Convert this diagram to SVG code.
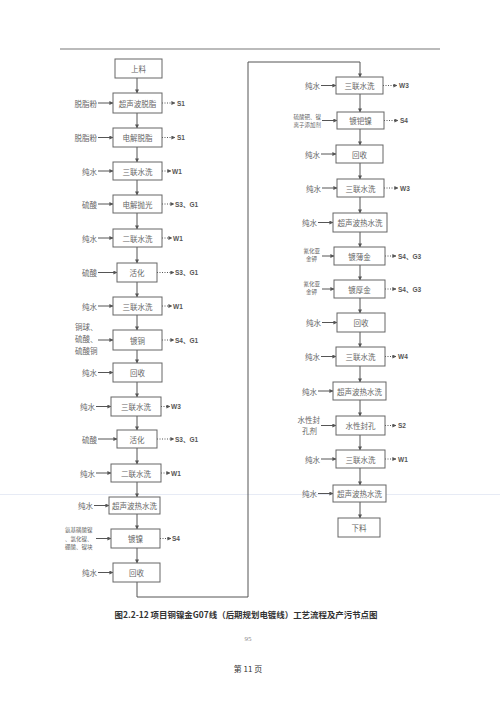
<svg xmlns="http://www.w3.org/2000/svg" width="500" height="707" viewBox="0 0 500 707">
<defs>
<marker id="ah" viewBox="0 0 10 10" refX="9" refY="5" markerWidth="4" markerHeight="4" orient="auto"><path d="M0,0 L10,5 L0,10 z" fill="#555"/></marker>
<style>
.bx{fill:#fff;stroke:#666;stroke-width:1}
.t{font-family:"Noto Sans CJK SC","Liberation Serif",serif;font-size:7.5px;fill:#666;text-anchor:middle;dominant-baseline:central}
.in{font-family:"Noto Sans CJK SC","Liberation Serif",serif;font-size:7.5px;fill:#666;text-anchor:end;dominant-baseline:central}
.sm{font-family:"Noto Sans CJK SC","Liberation Serif",serif;font-size:5.5px;fill:#666;text-anchor:end;dominant-baseline:central}
.out{font-family:"Liberation Sans","Noto Sans CJK SC",sans-serif;font-size:6.5px;font-weight:bold;fill:#555;dominant-baseline:central}
.ln{stroke:#555;stroke-width:1;fill:none;marker-end:url(#ah)}
.dl{stroke:#555;stroke-width:1;fill:none;stroke-dasharray:1,1.5;marker-end:url(#ah)}
</style>
</defs>
<rect width="500" height="707" fill="#fff"/>
<line x1="60" y1="49" x2="440" y2="49" stroke="#bbb" stroke-width="2"/>
<line x1="0" y1="494.5" x2="500" y2="494.5" stroke="#d6deee" stroke-width="0.6"/>

<g id="connectors">
<line class="ln" x1="137" y1="78" x2="137" y2="93"/>
<line class="ln" x1="137" y1="113" x2="137" y2="128"/>
<line class="ln" x1="137" y1="147" x2="137" y2="162"/>
<line class="ln" x1="137" y1="180" x2="137" y2="195"/>
<line class="ln" x1="137" y1="213" x2="137" y2="229"/>
<line class="ln" x1="137" y1="247" x2="137" y2="263"/>
<line class="ln" x1="137" y1="282" x2="137" y2="297"/>
<line class="ln" x1="137" y1="315" x2="137" y2="330"/>
<line class="ln" x1="137" y1="350" x2="137" y2="363"/>
<line class="ln" x1="137" y1="382" x2="137" y2="397"/>
<line class="ln" x1="137" y1="416" x2="137" y2="430"/>
<line class="ln" x1="137" y1="448" x2="137" y2="464"/>
<line class="ln" x1="137" y1="482" x2="137" y2="497"/>
<line class="ln" x1="137" y1="514" x2="137" y2="529"/>
<line class="ln" x1="137" y1="548" x2="137" y2="563"/>
<polyline class="ln" points="137,582 137,597 248,597 248,62 360,62 360,77"/>
<line class="ln" x1="360" y1="94" x2="360" y2="112"/>
<line class="ln" x1="360" y1="129" x2="360" y2="145"/>
<line class="ln" x1="360" y1="163" x2="360" y2="179"/>
<line class="ln" x1="360" y1="197" x2="360" y2="213"/>
<line class="ln" x1="360" y1="232" x2="360" y2="247"/>
<line class="ln" x1="360" y1="265" x2="360" y2="280"/>
<line class="ln" x1="360" y1="298" x2="360" y2="313"/>
<line class="ln" x1="360" y1="332" x2="360" y2="347"/>
<line class="ln" x1="360" y1="366" x2="360" y2="382"/>
<line class="ln" x1="360" y1="400" x2="360" y2="416"/>
<line class="ln" x1="360" y1="435" x2="360" y2="450"/>
<line class="ln" x1="360" y1="468" x2="360" y2="485"/>
<line class="ln" x1="360" y1="502" x2="360" y2="518"/>
<line class="ln" x1="98" y1="103" x2="113" y2="103"/>
<line class="ln" x1="98" y1="137.5" x2="113" y2="137.5"/>
<line class="ln" x1="98" y1="171" x2="113" y2="171"/>
<line class="ln" x1="98" y1="204" x2="113" y2="204"/>
<line class="ln" x1="98" y1="238" x2="113" y2="238"/>
<line class="ln" x1="98" y1="272.5" x2="117" y2="272.5"/>
<line class="ln" x1="98" y1="306" x2="113" y2="306"/>
<line class="ln" x1="98" y1="340" x2="113" y2="340"/>
<line class="ln" x1="98" y1="372.5" x2="113" y2="372.5"/>
<line class="ln" x1="96" y1="406.5" x2="111" y2="406.5"/>
<line class="ln" x1="98" y1="439" x2="117" y2="439"/>
<line class="ln" x1="96" y1="473" x2="111" y2="473"/>
<line class="ln" x1="94" y1="505.5" x2="109" y2="505.5"/>
<line class="ln" x1="96" y1="538.5" x2="111" y2="538.5"/>
<line class="ln" x1="98" y1="572.5" x2="113" y2="572.5"/>
<line class="dl" x1="162" y1="103" x2="175" y2="103"/>
<line class="dl" x1="162" y1="137.5" x2="175" y2="137.5"/>
<line class="dl" x1="162" y1="171" x2="171" y2="171"/>
<line class="dl" x1="162" y1="204" x2="174" y2="204"/>
<line class="dl" x1="162" y1="238" x2="172" y2="238"/>
<line class="dl" x1="157" y1="272.5" x2="174" y2="272.5"/>
<line class="dl" x1="162" y1="306" x2="172" y2="306"/>
<line class="dl" x1="162" y1="340" x2="174" y2="340"/>
<line class="dl" x1="161" y1="406.5" x2="170" y2="406.5"/>
<line class="dl" x1="157" y1="439" x2="174" y2="439"/>
<line class="dl" x1="161" y1="473" x2="170" y2="473"/>
<line class="dl" x1="160" y1="538.5" x2="171" y2="538.5"/>
<line class="ln" x1="321" y1="85.5" x2="336" y2="85.5"/>
<line class="ln" x1="322" y1="120.5" x2="337" y2="120.5"/>
<line class="ln" x1="321" y1="154" x2="336" y2="154"/>
<line class="ln" x1="322" y1="188" x2="337" y2="188"/>
<line class="ln" x1="318" y1="222.5" x2="333" y2="222.5"/>
<line class="ln" x1="322" y1="256" x2="334" y2="256"/>
<line class="ln" x1="322" y1="289" x2="334" y2="289"/>
<line class="ln" x1="322" y1="322.5" x2="337" y2="322.5"/>
<line class="ln" x1="321" y1="356.5" x2="336" y2="356.5"/>
<line class="ln" x1="318" y1="391" x2="333" y2="391"/>
<line class="ln" x1="321" y1="425.5" x2="336" y2="425.5"/>
<line class="ln" x1="321" y1="459" x2="336" y2="459"/>
<line class="ln" x1="318" y1="493.5" x2="333" y2="493.5"/>
<line class="dl" x1="383" y1="85.5" x2="397" y2="85.5"/>
<line class="dl" x1="384" y1="120.5" x2="398" y2="120.5"/>
<line class="dl" x1="384" y1="188" x2="398" y2="188"/>
<line class="dl" x1="385" y1="256" x2="396" y2="256"/>
<line class="dl" x1="385" y1="289" x2="396" y2="289"/>
<line class="dl" x1="385" y1="356.5" x2="396" y2="356.5"/>
<line class="dl" x1="385" y1="425.5" x2="396" y2="425.5"/>
<line class="dl" x1="385" y1="459" x2="396" y2="459"/>
</g>

<g id="L1"><rect class="bx" x="115" y="59" width="47" height="19"/><text class="t" x="138.5" y="68.5">上料</text></g>
<g id="L2"><rect class="bx" x="113" y="93" width="49" height="20"/><text class="t" x="137.5" y="103">超声波脱脂</text><text class="in" x="97" y="103">脱脂粉</text><text class="out" x="177" y="103">S1</text></g>
<g id="L3"><rect class="bx" x="113" y="128" width="49" height="19"/><text class="t" x="137.5" y="137.5">电解脱脂</text><text class="in" x="97" y="137.5">脱脂粉</text><text class="out" x="177" y="137.5">S1</text></g>
<g id="L4"><rect class="bx" x="113" y="162" width="49" height="18"/><text class="t" x="137.5" y="171">三联水洗</text><text class="in" x="97" y="171">纯水</text><text class="out" x="172" y="171">W1</text></g>
<g id="L5"><rect class="bx" x="113" y="195" width="49" height="18"/><text class="t" x="137.5" y="204">电解抛光</text><text class="in" x="97" y="204">硫酸</text><text class="out" x="175" y="204">S3、G1</text></g>
<g id="L6"><rect class="bx" x="113" y="229" width="49" height="18"/><text class="t" x="137.5" y="238">二联水洗</text><text class="in" x="97" y="238">纯水</text><text class="out" x="173" y="238">W1</text></g>
<g id="L7"><rect class="bx" x="117" y="263" width="40" height="19"/><text class="t" x="137" y="272.5">活化</text><text class="in" x="97" y="272.5">硫酸</text><text class="out" x="175" y="272.5">S3、G1</text></g>
<g id="L8"><rect class="bx" x="113" y="297" width="49" height="18"/><text class="t" x="137.5" y="306">三联水洗</text><text class="in" x="97" y="306">纯水</text><text class="out" x="173" y="306">W1</text></g>
<g id="L9"><rect class="bx" x="113" y="330" width="49" height="20"/><text class="t" x="137.5" y="340">镀铜</text><text class="in" x="75" y="326" style="text-anchor:start">铜球、</text><text class="in" x="75" y="338" style="text-anchor:start">硫酸、</text><text class="in" x="75" y="350" style="text-anchor:start">硫酸铜</text><text class="out" x="175" y="340">S4、G1</text></g>
<g id="L10"><rect class="bx" x="113" y="363" width="49" height="19"/><text class="t" x="137.5" y="372.5">回收</text><text class="in" x="97" y="372.5">纯水</text></g>
<g id="L11"><rect class="bx" x="111" y="397" width="50" height="19"/><text class="t" x="136" y="406.5">三联水洗</text><text class="in" x="95" y="406.5">纯水</text><text class="out" x="171" y="406.5">W3</text></g>
<g id="L12"><rect class="bx" x="117" y="430" width="40" height="18"/><text class="t" x="137" y="439">活化</text><text class="in" x="97" y="439">硫酸</text><text class="out" x="175" y="439">S3、G1</text></g>
<g id="L13"><rect class="bx" x="111" y="464" width="50" height="18"/><text class="t" x="136" y="473">二联水洗</text><text class="in" x="95" y="473">纯水</text><text class="out" x="171" y="473">W1</text></g>
<g id="L14"><rect class="bx" x="109" y="497" width="51" height="17"/><text class="t" x="134.5" y="505.5">超声波热水洗</text><text class="in" x="93" y="505.5">纯水</text></g>
<g id="L15"><rect class="bx" x="111" y="529" width="49" height="19"/><text class="t" x="135.5" y="538.5">镀镍</text><text class="sm" x="65" y="530" style="text-anchor:start">氨基磺酸镍</text><text class="sm" x="65" y="538.5" style="text-anchor:start">、氯化镍、</text><text class="sm" x="65" y="547" style="text-anchor:start">硼酸、镍块</text><text class="out" x="172" y="538.5">S4</text></g>
<g id="L16"><rect class="bx" x="113" y="563" width="47" height="19"/><text class="t" x="136.5" y="572.5">回收</text><text class="in" x="97" y="572.5">纯水</text></g>

<g id="R1"><rect class="bx" x="336" y="77" width="47" height="17"/><text class="t" x="359.5" y="85.5">三联水洗</text><text class="in" x="320" y="85.5">纯水</text><text class="out" x="399" y="85.5">W3</text></g>
<g id="R2"><rect class="bx" x="337" y="112" width="47" height="17"/><text class="t" x="360.5" y="120.5">镀钯镍</text><text class="sm" x="321" y="117">硫酸钯、镍</text><text class="sm" x="321" y="124.5">离子添加剂</text><text class="out" x="400" y="120.5">S4</text></g>
<g id="R3"><rect class="bx" x="336" y="145" width="47" height="18"/><text class="t" x="359.5" y="154">回收</text><text class="in" x="320" y="154">纯水</text></g>
<g id="R4"><rect class="bx" x="337" y="179" width="47" height="18"/><text class="t" x="360.5" y="188">三联水洗</text><text class="in" x="321" y="188">纯水</text><text class="out" x="400" y="188">W3</text></g>
<g id="R5"><rect class="bx" x="333" y="213" width="54" height="19"/><text class="t" x="360" y="222.5">超声波热水洗</text><text class="in" x="317" y="222.5">纯水</text></g>
<g id="R6"><rect class="bx" x="334" y="247" width="51" height="18"/><text class="t" x="359.5" y="256">镀薄金</text><text class="sm" x="320" y="251">氰化亚</text><text class="sm" x="317" y="259">金钾</text><text class="out" x="398" y="256">S4、G3</text></g>
<g id="R7"><rect class="bx" x="334" y="280" width="51" height="18"/><text class="t" x="359.5" y="289">镀厚金</text><text class="sm" x="320" y="284">氰化亚</text><text class="sm" x="317" y="292">金钾</text><text class="out" x="398" y="289">S4、G3</text></g>
<g id="R8"><rect class="bx" x="337" y="313" width="48" height="19"/><text class="t" x="361" y="322.5">回收</text><text class="in" x="321" y="322.5">纯水</text></g>
<g id="R9"><rect class="bx" x="336" y="347" width="49" height="19"/><text class="t" x="360.5" y="356.5">三联水洗</text><text class="in" x="320" y="356.5">纯水</text><text class="out" x="398" y="356.5">W4</text></g>
<g id="R10"><rect class="bx" x="333" y="382" width="53" height="18"/><text class="t" x="359.5" y="391">超声波热水洗</text><text class="in" x="317" y="391">纯水</text></g>
<g id="R11"><rect class="bx" x="336" y="416" width="49" height="19"/><text class="t" x="360.5" y="425.5">水性封孔</text><text class="in" x="320" y="419.5">水性封</text><text class="in" x="317" y="430">孔剂</text><text class="out" x="398" y="425.5">S2</text></g>
<g id="R12"><rect class="bx" x="336" y="450" width="49" height="18"/><text class="t" x="360.5" y="459">三联水洗</text><text class="in" x="320" y="459">纯水</text><text class="out" x="398" y="459">W1</text></g>
<g id="R13"><rect class="bx" x="333" y="485" width="53" height="17"/><text class="t" x="359.5" y="493.5">超声波热水洗</text><text class="in" x="317" y="493.5">纯水</text></g>
<g id="R14"><rect class="bx" x="338" y="518" width="42" height="19"/><text class="t" x="359" y="527.5">下料</text></g>

<text x="246" y="614" font-family="'Noto Sans CJK SC','Liberation Sans',sans-serif" font-size="8.5" font-weight="bold" fill="#333" text-anchor="middle" dominant-baseline="central" textLength="263" lengthAdjust="spacingAndGlyphs">图2.2-12  项目铜镍金G07线（后期规划电镀线）工艺流程及产污节点图</text>
<text x="248" y="639" font-family="'Liberation Serif',serif" font-size="7" fill="#888" text-anchor="middle" dominant-baseline="central">95</text>
<text x="248" y="668" font-family="'Noto Sans CJK SC','Liberation Serif',serif" font-size="8" fill="#333" text-anchor="middle" dominant-baseline="central">第 11 页</text>
</svg>
